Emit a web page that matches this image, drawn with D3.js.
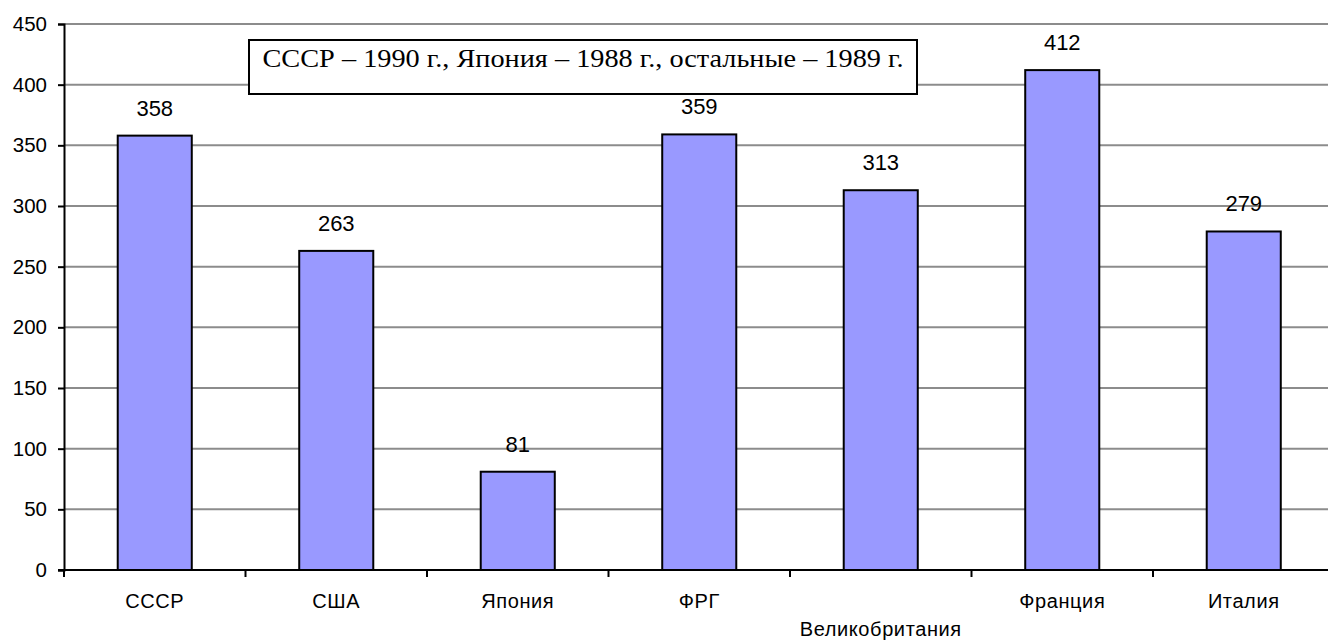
<!DOCTYPE html>
<html><head><meta charset="utf-8">
<script src="https://cdn.jsdelivr.net/npm/d3@7"></script>
<style>body{margin:0;background:#fff}svg{display:block}</style>
</head><body>
<script>
const categories = ["СССР","США","Япония","ФРГ","Великобритания","Франция","Италия"];
const values = [358,263,81,359,313,412,279];
const yTicks = [0,50,100,150,200,250,300,350,400,450];
const note = "СССР – 1990 г., Япония – 1988 г., остальные – 1989 г.";

const W = 1328, H = 642;
const mLeft = 64, mRight = 1334.5, mTop = 24, mBottom = 570;
const sans = "Liberation Sans, Arial, sans-serif";
const svg = d3.select("body").append("svg").attr("width", W).attr("height", H);

const x = d3.scaleBand().domain(categories).range([mLeft, mRight]).padding(0);
const y = d3.scaleLinear().domain([0, 450]).range([mBottom, mTop]);
const barW = x.step() * 0.408;

// grid
svg.append("g").selectAll("line").data(yTicks.filter(d => d > 0)).join("line")
  .attr("x1", mLeft).attr("x2", mRight)
  .attr("y1", d => y(d)).attr("y2", d => y(d))
  .attr("stroke", "#8c8c8c").attr("stroke-width", 2);

// bars
svg.append("g").selectAll("rect").data(categories).join("rect")
  .attr("x", (c) => x(c) + x.bandwidth()/2 - barW/2)
  .attr("y", (c, i) => y(values[i]))
  .attr("width", barW)
  .attr("height", (c, i) => mBottom - y(values[i]))
  .attr("fill", "#9999ff").attr("stroke", "#000").attr("stroke-width", 2);

// value labels
svg.append("g").selectAll("text").data(categories).join("text")
  .attr("x", c => x(c) + x.bandwidth()/2)
  .attr("y", (c, i) => y(values[i]) - 20)
  .attr("text-anchor", "middle").attr("fill", "#000")
  .attr("font-family", sans).attr("font-size", 22)
  .text((c, i) => values[i]);

// y axis
const ya = svg.append("g").attr("transform", `translate(${mLeft},0)`)
  .call(d3.axisLeft(y).tickValues(yTicks).tickSize(6).tickPadding(11));
ya.select(".domain").attr("stroke", "#000").attr("stroke-width", 2);
ya.selectAll(".tick line").attr("stroke", "#000").attr("stroke-width", 2);
ya.selectAll("text").attr("font-family", sans).attr("font-size", 20.5).attr("fill", "#000");

// x axis
const xa = svg.append("g").attr("transform", `translate(0,${mBottom})`)
  .call(d3.axisBottom(x).tickSize(0).tickFormat(""));
xa.select(".domain").remove();
xa.selectAll(".tick").remove();
xa.append("line").attr("x1", mLeft - 6).attr("x2", W).attr("stroke", "#000").attr("stroke-width", 2);
xa.selectAll(".sep").data(d3.range(categories.length + 1)).join("line").attr("class", "sep")
  .attr("x1", i => mLeft + i * x.step()).attr("x2", i => mLeft + i * x.step())
  .attr("y1", 0).attr("y2", 7).attr("stroke", "#000").attr("stroke-width", 2);
xa.selectAll(".lbl").data(categories).join("text").attr("class", "lbl")
  .attr("x", c => x(c) + x.bandwidth()/2)
  .attr("y", (c, i) => i === 4 ? 66 : 38)
  .attr("text-anchor", "middle").attr("fill", "#000")
  .attr("font-family", sans).attr("font-size", 20).attr("letter-spacing", 0.6)
  .text(c => c);

// note box
const ng = svg.append("g");
ng.append("rect").attr("x", 249).attr("y", 40).attr("width", 668).attr("height", 54)
  .attr("fill", "#fff").attr("stroke", "#000").attr("stroke-width", 2);
ng.append("text").attr("x", 583).attr("y", 67)
  .attr("text-anchor", "middle").attr("fill", "#000")
  .attr("font-family", "Liberation Serif, Times New Roman, serif").attr("font-size", 26)
  .attr("textLength", 641).attr("lengthAdjust", "spacingAndGlyphs")
  .text(note);
</script>
</body></html>
